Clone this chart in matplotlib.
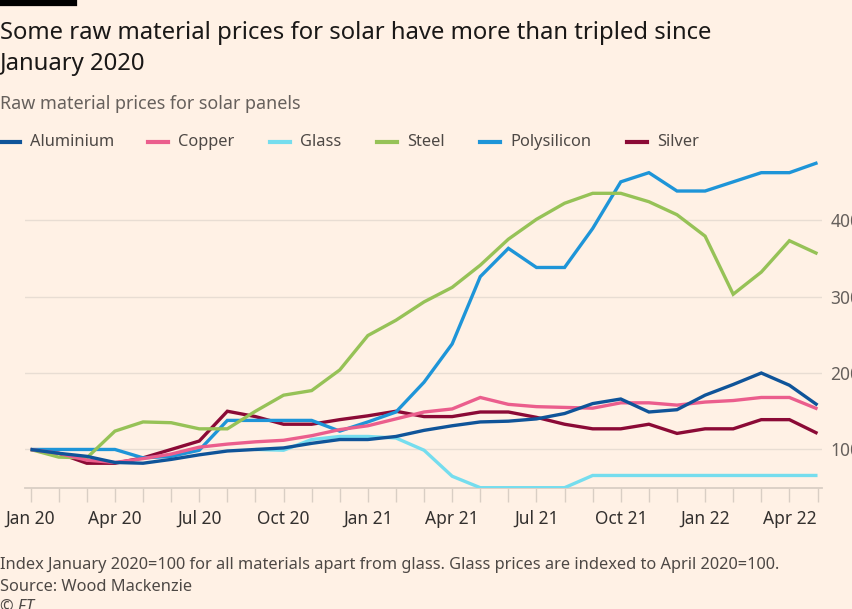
import numpy as np
import matplotlib
matplotlib.use("Agg")
import matplotlib.pyplot as plt
from matplotlib.lines import Line2D

plt.rcParams["font.family"] = ["Noto Sans", "DejaVu Sans"]

W, H = 852, 609
BG = "#FFF1E5"

months = np.arange(29)  # Jan 2020 .. May 2022
tick_labels = ["Jan 20", "Apr 20", "Jul 20", "Oct 20", "Jan 21", "Apr 21",
               "Jul 21", "Oct 21", "Jan 22", "Apr 22"]
nan = np.nan

aluminium = [100, 95, 91, 83, 82, 87, 93, 98, 100, 102, 108, 113, 113, 117, 125,
             131, 136, 137, 140, 147, 160, 166, 149, 152, 171, 185, 200, 184, 158]
copper = [100, 95, 86, 83, 88, 94, 103, 107, 110, 112, 118, 126, 131, 140, 149,
          153, 168, 159, 156, 155, 154, 161, 161, 158, 162, 164, 168, 168, 153]
glass = [nan, nan, nan, nan, nan, nan, nan, nan, 100, 99, 113, 117, 117, 115, 99,
         65, 50, 50, 50, 50, 66, 66, 66, 66, 66, 66, 66, 66, 66]
steel = [100, 90, 89, 124, 136, 135, 127, 127, 150, 171, 177, 204, 249, 269, 293,
         312, 341, 375, 401, 422, 435, 435, 424, 407, 379, 303, 332, 373, 356]
polysilicon = [100, 100, 100, 100, 89, 91, 99, 138, 138, 138, 138, 124, 136, 149, 188,
               238, 326, 363, 338, 338, 389, 450, 462, 438, 438, 450, 462, 462, 475]
silver = [100, 95, 82, 82, 89, 100, 111, 150, 143, 133, 133, 139, 144, 150, 143,
          143, 149, 149, 142, 133, 127, 127, 133, 121, 127, 127, 139, 139, 121]

series = [
    ("Aluminium", aluminium, "#0F5499"),
    ("Copper", copper, "#EB5E8D"),
    ("Glass", glass, "#75DDEE"),
    ("Steel", steel, "#96C257"),
    ("Polysilicon", polysilicon, "#1E95D8"),
    ("Silver", silver, "#8B0A36"),
]

fig = plt.figure(figsize=(W / 100, H / 100), dpi=100, facecolor=BG)


def fx(px):
    return px / W


def fy(py):
    return 1 - py / H


ax = fig.add_axes([fx(25), fy(487.7), fx(822 - 25), (487.7 - 158.9) / H])
ax.set_facecolor(BG)

# draw in reverse so aluminium ends up on top
for z, (name, vals, col) in enumerate(reversed(series)):
    ax.plot(months, vals, color=col, lw=2.4, solid_joinstyle="miter",
            solid_capstyle="butt", zorder=3 + z)

ax.set_xlim(-0.2, 28.16)
ax.set_ylim(50, 480)

ax.set_yticks([100, 200, 300, 400])
ax.yaxis.tick_right()
ax.tick_params(axis="y", length=0, pad=6, labelsize=12.5, labelcolor="#66605C")
ax.grid(axis="y", color="#E8DDD3", lw=1)

ax.set_xticks(months)
ax.set_xticklabels([tick_labels[i // 3] if i % 3 == 0 else "" for i in months])
ax.tick_params(axis="x", length=10, width=1, color="#D9CEC4", pad=6,
               labelsize=12.5, labelcolor="#33302E")

for s in ["top", "left", "right"]:
    ax.spines[s].set_visible(False)
ax.spines["bottom"].set_color("#D9CEC4")
ax.spines["bottom"].set_linewidth(1.3)

# header
fig.add_artist(Line2D([0, fx(74)], [fy(2.5), fy(2.5)], color="#000000", lw=4.5))
fig.text(0, fy(33), "Some raw material prices for solar have more than tripled since",
         fontsize=17.2, color="#1A1817", va="center")
fig.text(0, fy(64), "January 2020", fontsize=17.2, color="#1A1817", va="center")
fig.text(0, fy(104), "Raw material prices for solar panels", fontsize=12.9,
         color="#66605C", va="center")

# legend
leg_x = [0, 148, 270, 377, 480, 627]
for (name, vals, col), x0 in zip(series, leg_x):
    fig.add_artist(Line2D([fx(x0), fx(x0 + 20)], [fy(142), fy(142)], color=col, lw=3))
    fig.text(fx(x0 + 30), fy(142), name, fontsize=11.8, color="#4D4845", va="center")

# footer
fig.text(0, fy(565), "Index January 2020=100 for all materials apart from glass. "
         "Glass prices are indexed to April 2020=100.", fontsize=11.8, color="#4D4845",
         va="center")
fig.text(0, fy(587), "Source: Wood Mackenzie", fontsize=11.8, color="#4D4845", va="center")
fig.text(0, fy(607), "© FT", fontsize=11.8, color="#4D4845", va="center", style="italic")

fig.savefig("out.png", dpi=100, facecolor=BG)
